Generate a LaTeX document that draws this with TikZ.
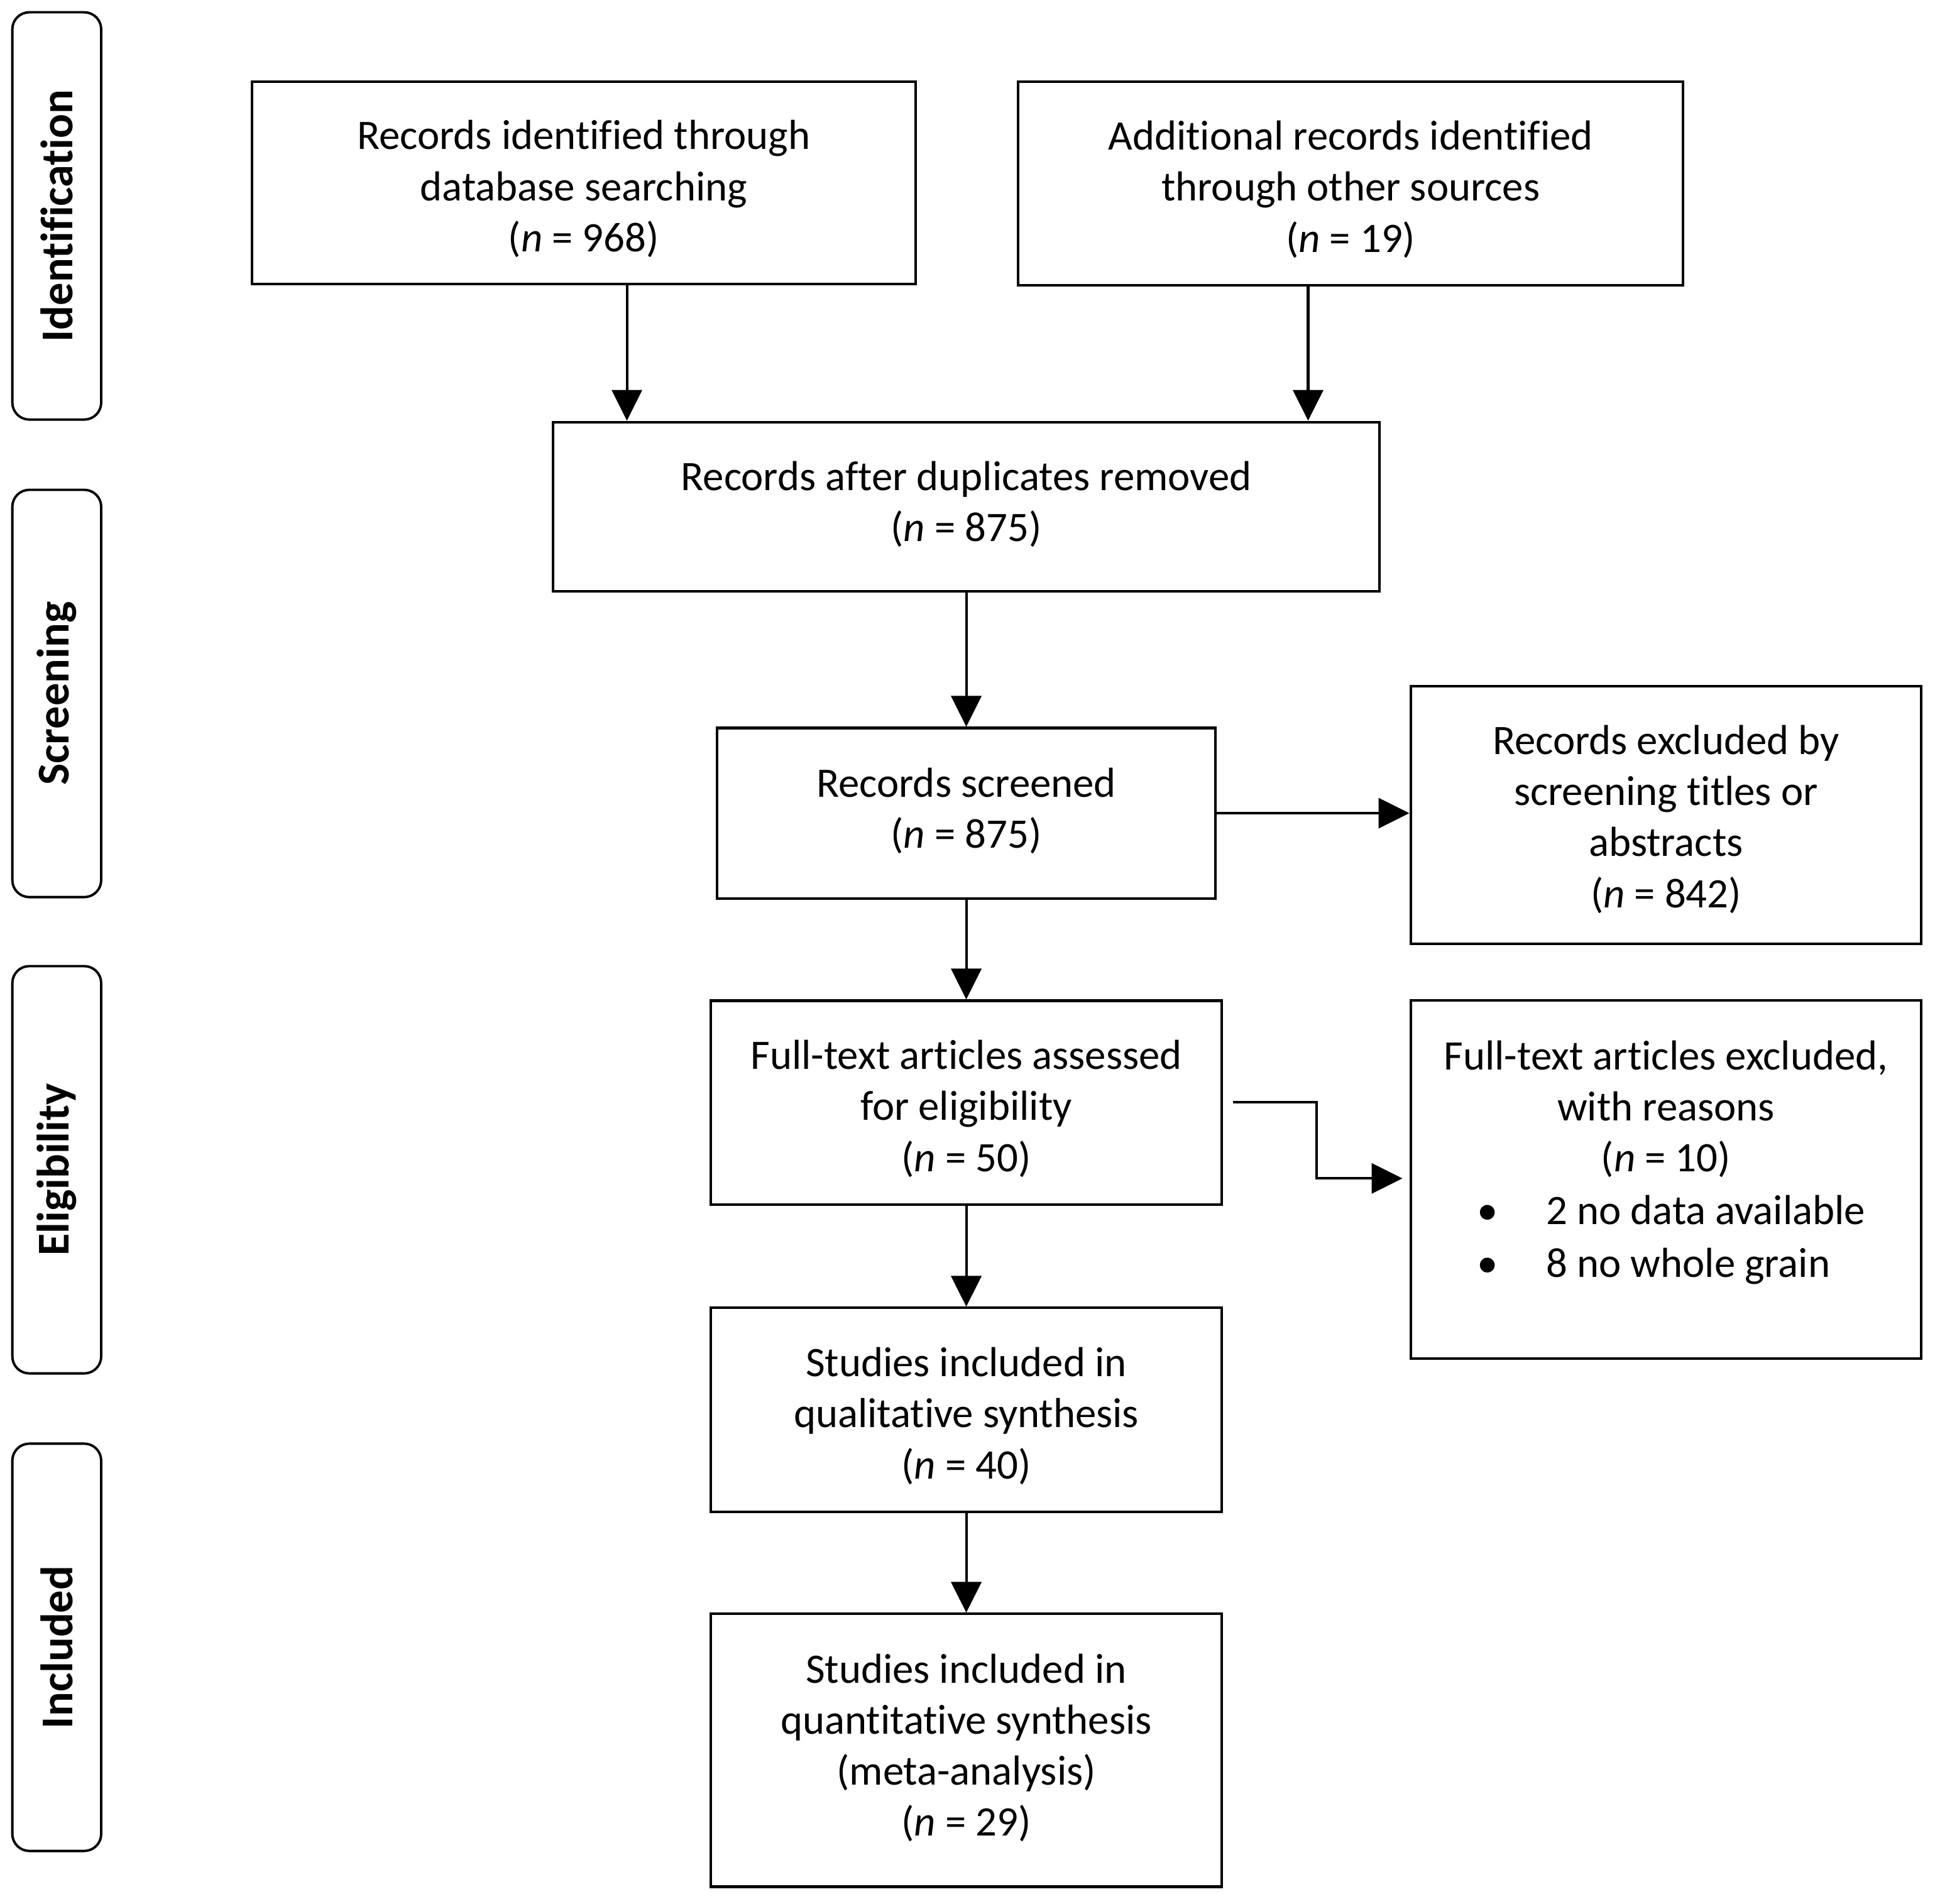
\documentclass[tikz,border=0pt]{standalone}
\usepackage{fontspec}
\setmainfont{Carlito}[Ligatures=NoCommon]
\usetikzlibrary{arrows.meta}
\newcommand\prbody{\fontsize{19}{23.1}\selectfont}
\newcommand\prside{\fontsize{20.6}{24}\selectfont\bfseries}
\newcommand\prtop{\rule{0pt}{18.8pt}}
\newcommand\prtopb{\rule{0pt}{17pt}}
\newcommand\prbot{\rule[-4.8pt]{0pt}{0pt}}
\begin{document}
\begin{tikzpicture}[x=0.019636cm,y=-0.019643cm,
  box/.style={draw, line width=1.15pt, inner sep=0pt, align=center, font=\prbody},
  side/.style={draw, line width=1.1pt, rounded corners=0.27cm, inner sep=0pt, font=\prside, rotate=90, minimum width=6.482cm, minimum height=1.414cm},
  arr/.style={line width=1.15pt, -{Triangle[width=0.48cm,length=0.49cm]}}]
\useasboundingbox (0,0) rectangle (1568,1543);
\node[side] (sid) at (46,175) {Identification};
\node[side] (sscr) at (46,562) {Screening};
\node[side] (selig) at (46,948) {Eligibility};
\node[side] (sinc) at (46,1335) {Included};

\node[box, minimum width=10.564cm, minimum height=3.221cm] (b1) at (473,148) {\prtop Records identified through\\database searching\\(\textit{n} = 968)};
\node[box, minimum width=10.584cm, minimum height=3.241cm] (b2) at (1094.5,148.5) {\prtop Additional records identified\\through other sources\\(\textit{n} = 19)};
\node[box, minimum width=13.156cm, minimum height=2.691cm] (b3) at (783,410.5) {Records after duplicates removed\\(\textit{n} = 875)\prbot};
\node[box, minimum width=7.933cm, minimum height=2.711cm] (b4) at (783,659) {Records screened\\(\textit{n} = 875)\prbot};
\node[box, minimum width=8.129cm, minimum height=4.105cm] (b5) at (1350,660.5) {\prtopb Records excluded by\\screening titles or\\abstracts\\(\textit{n} = 842)};
\node[box, minimum width=8.129cm, minimum height=3.241cm] (b6) at (783,893.5) {\prtop Full-text articles assessed\\for eligibility\\(\textit{n} = 50)};
\node[box, minimum width=8.129cm, minimum height=5.696cm] (b7) at (1350,956) {};
\node[anchor=north, inner sep=0pt, font=\prbody] (b7t) at (1350,843) {\begin{minipage}{8.129cm}\centering Full-text articles excluded,\\ with reasons\\ (\textit{n} = 10)\par\vspace{0.8pt}
\raggedright\hspace*{1.06cm}\makebox[1.1cm][l]{\textbullet}2 no data available\par\vspace{0.8pt}
\hspace*{1.06cm}\makebox[1.1cm][l]{\textbullet}8 no whole grain\end{minipage}};
\node[box, minimum width=8.129cm, minimum height=3.241cm] (b8) at (783,1142.5) {\prtop Studies included in\\qualitative synthesis\\(\textit{n} = 40)};
\node[box, minimum width=8.129cm, minimum height=4.341cm] (b9) at (783,1418.5) {Studies included in\\quantitative synthesis\\(meta-analysis)\\(\textit{n} = 29)\prbot};

\coordinate (c1) at (508,0);
\coordinate (c2) at (1060,0);
\coordinate (e1) at (999,893);
\coordinate (e2) at (1067,955);
\draw[arr] (b1.south -| c1) -- (b3.north -| c1);
\draw[arr] (b2.south -| c2) -- (b3.north -| c2);
\draw[arr] (b3.south) -- (b4.north);
\draw[arr] (b4.east) -- (b4.east -| b5.west);
\draw[arr] (b4.south) -- (b6.north);
\draw[arr, shorten >=0.11cm] (e1) -| (e2) -- (e2 -| b7.west);
\draw[arr] (b6.south) -- (b8.north);
\draw[arr] (b8.south) -- (b9.north);
\end{tikzpicture}
\end{document}
